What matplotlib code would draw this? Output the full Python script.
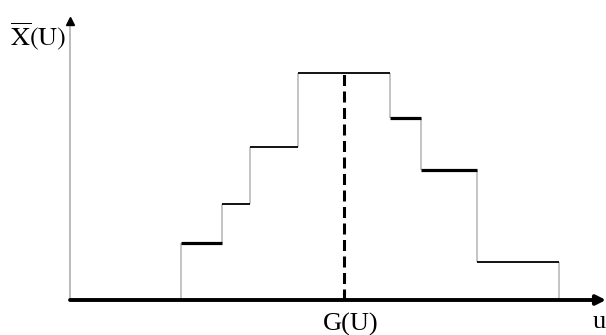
import matplotlib

matplotlib.use("Agg")

import matplotlib.pyplot as plt
import numpy as np

# step edges along u and the level of each step (arbitrary units)
edges = [111, 152, 180, 228, 320, 351, 407, 489]
levels = [57, 96, 153, 227, 182, 130, 38]
bold = [True, False, False, False, True, True, False]
g_u = 274
x_max = 536
y_max = 279

plt.rcParams["mathtext.fontset"] = "stix"
plt.rcParams["font.family"] = "Liberation Serif"

fig = plt.figure(figsize=(6.06, 3.35), dpi=100)
ax = fig.add_axes([0, 0, 1, 1])
ax.set_xlim(-70, 536)
ax.set_ylim(-35, 300)
ax.axis("off")

# vertical risers (light gray)
padded = [0] + levels + [0]
vlo = [min(padded[i], padded[i + 1]) for i in range(len(edges))]
vhi = [max(padded[i], padded[i + 1]) for i in range(len(edges))]
ax.vlines(edges, vlo, vhi, colors="#b4b4b4", linewidth=1.1, zorder=2)

# horizontal treads
lws = [2.3 if b else 1.3 for b in bold]
ax.hlines(levels, edges[:-1], edges[1:], colors="black", linewidths=lws, zorder=3)

# G(U) dashed line
ax.plot([g_u, g_u], [0, max(levels) + 3], color="black", lw=2.2,
        dashes=(3.6, 1.8), zorder=4)

# axes
ax.plot([0, 0], [0, y_max - 6], color="#a8a8a8", lw=1.1, zorder=1)
ax.plot(0, y_max, marker="^", color="black", ms=6, zorder=5)
ax.annotate("", xy=(x_max, 0), xytext=(0, 0),
            arrowprops=dict(arrowstyle="-|>", lw=2.8, color="black",
                            mutation_scale=14, shrinkA=0, shrinkB=0), zorder=5)

ax.text(-60, 264, r"$\overline{\mathrm{X}}\mathrm{(U)}$", fontsize=19,
        ha="left", va="center")
ax.text(g_u + 7, -24, "G(U)", fontsize=19, ha="center", va="center")
ax.text(523, -22, "u", fontsize=19, ha="left", va="center")

fig.savefig("out.png", dpi=100, facecolor="white")
